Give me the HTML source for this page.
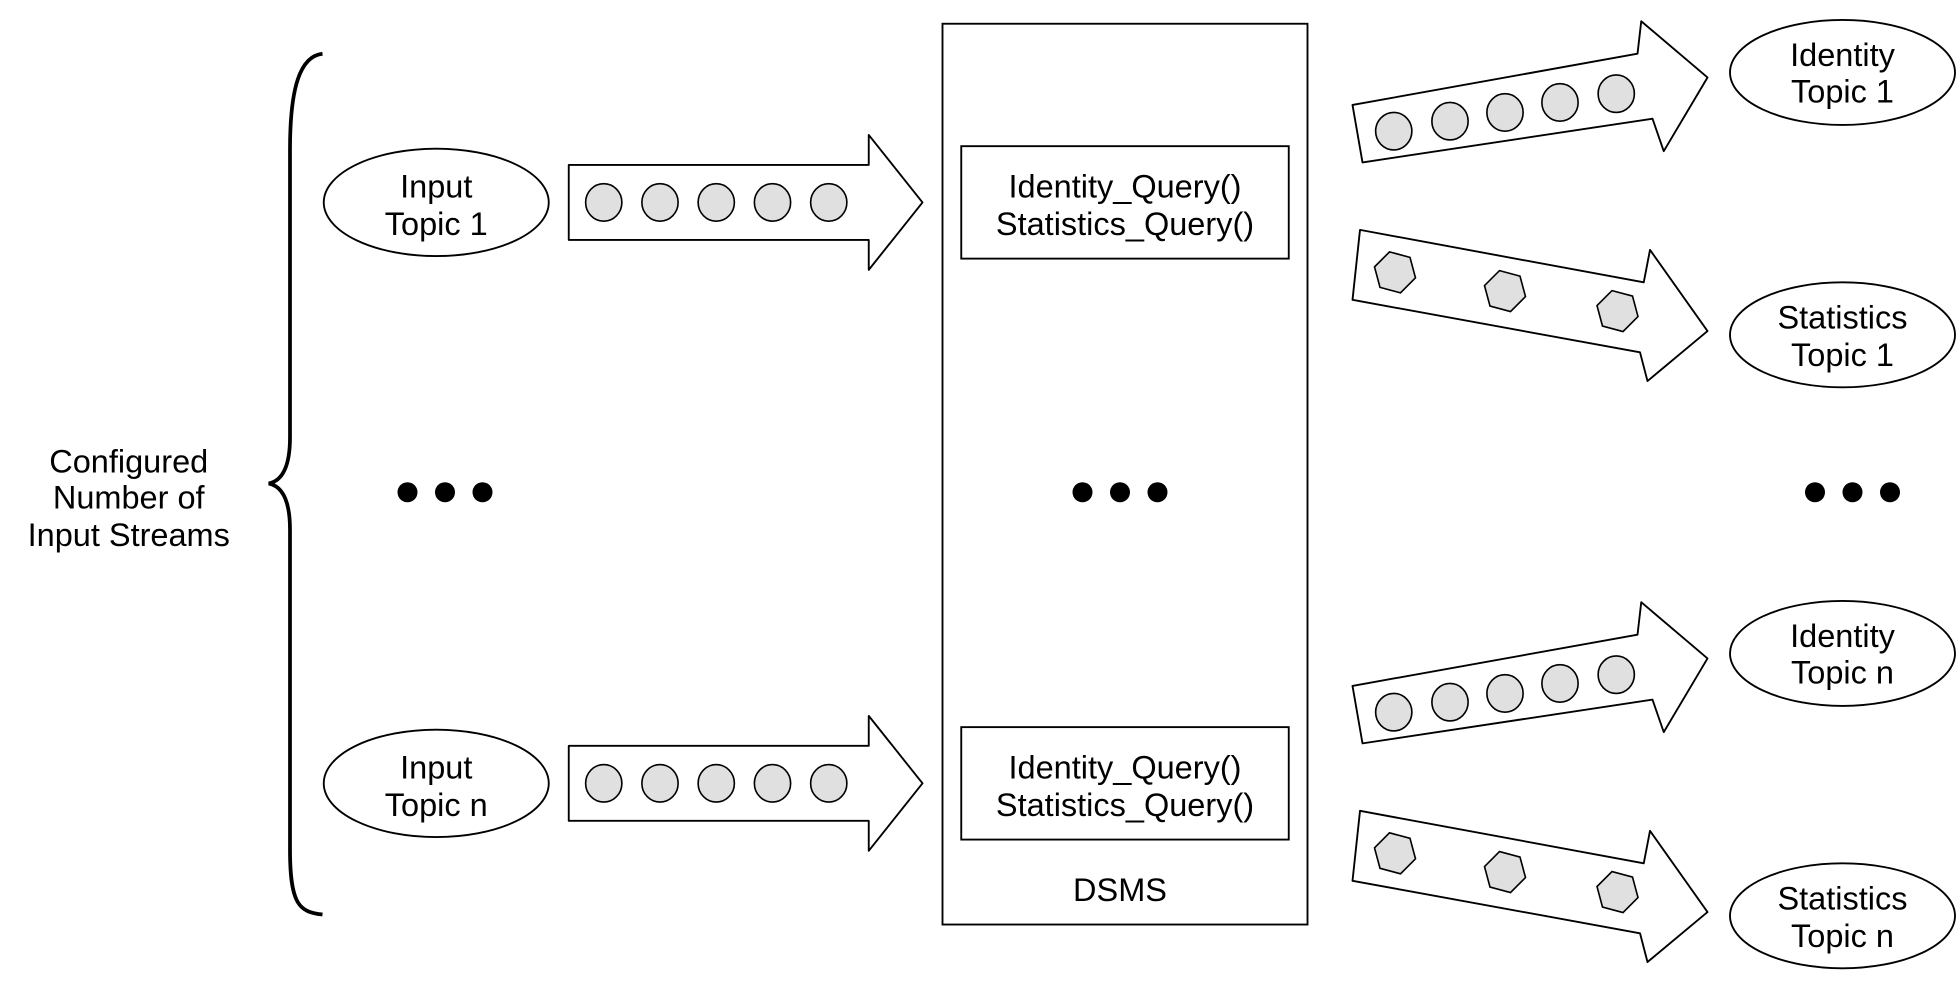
<!DOCTYPE html>
<html><head><meta charset="utf-8"><style>
html,body{margin:0;padding:0;background:#fff;}
svg{display:block;}
text{font-family:"Liberation Sans",Arial,sans-serif;font-size:26px;fill:#000;text-anchor:middle;}
</style></head><body>
<svg width="1960" height="987" viewBox="0 0 1568 790" preserveAspectRatio="none" xmlns="http://www.w3.org/2000/svg">
<defs>
<polygon id="hex" points="16.4,4.4 4.4,16.4 -12,12 -16.4,-4.4 -4.4,-16.4 12,-12" fill="#e0e0e0" stroke="#000" stroke-width="1.3"/>
<ellipse id="dot" rx="14.5" ry="15" fill="#e0e0e0" stroke="#000" stroke-width="1.3"/>
<g id="inarrow">
<path d="M455,132 L695,132 L695,108 L738,162 L695,216 L695,192 L455,192 Z" fill="#fff" stroke="#000" stroke-width="1.5" stroke-linejoin="round"/>
<use href="#dot" x="483" y="162"/><use href="#dot" x="528" y="162"/><use href="#dot" x="573" y="162"/><use href="#dot" x="618" y="162"/><use href="#dot" x="663" y="162"/>
</g>
<g id="idarrow">
<path d="M1082,84 L1310,43 L1313,17 L1366,62 L1331,121 L1322,95 L1090,130 Z" fill="#fff" stroke="#000" stroke-width="1.5" stroke-linejoin="round"/>
<use href="#dot" x="1115" y="105"/><use href="#dot" x="1160" y="97"/><use href="#dot" x="1204" y="90"/><use href="#dot" x="1248" y="82"/><use href="#dot" x="1293" y="75"/>
</g>
<g id="starrow">
<path d="M1088,184 L1315,226 L1320,200 L1366,265 L1318,305 L1312,282 L1082,240 Z" fill="#fff" stroke="#000" stroke-width="1.5" stroke-linejoin="round"/>
<use href="#hex" x="1116" y="218"/><use href="#hex" x="1204" y="233"/><use href="#hex" x="1294" y="249"/>
</g>
</defs>

<path d="M258,43 C240,45 232,70 232,120 L232,350 C232,375 225,385 215,387 C225,389 232,399 232,424 L232,680 C232,725 240,730 258,732" fill="none" stroke="#000" stroke-width="3"/>
<text x="103" y="378">Configured</text>
<text x="103" y="407">Number of</text>
<text x="103" y="437">Input Streams</text>

<ellipse cx="349" cy="162" rx="90" ry="43" fill="#fff" stroke="#000" stroke-width="1.5"/>
<text x="349" y="158">Input</text><text x="349" y="188">Topic 1</text>
<use href="#inarrow"/>
<ellipse cx="349" cy="627" rx="90" ry="43" fill="#fff" stroke="#000" stroke-width="1.5"/>
<text x="349" y="623">Input</text><text x="349" y="653">Topic n</text>
<use href="#inarrow" y="465"/>

<rect x="754" y="19" width="292" height="721" fill="none" stroke="#000" stroke-width="1.5"/>
<rect x="769" y="117" width="262" height="90" fill="#fff" stroke="#000" stroke-width="1.5"/>
<text x="900" y="158">Identity_Query()</text><text x="900" y="188">Statistics_Query()</text>
<rect x="769" y="582" width="262" height="90" fill="#fff" stroke="#000" stroke-width="1.5"/>
<text x="900" y="623">Identity_Query()</text><text x="900" y="653">Statistics_Query()</text>
<text x="896" y="721">DSMS</text>

<g fill="#000">
<circle cx="326" cy="394" r="8"/><circle cx="356" cy="394" r="8"/><circle cx="386" cy="394" r="8"/>
<circle cx="866" cy="394" r="8"/><circle cx="896" cy="394" r="8"/><circle cx="926" cy="394" r="8"/>
<circle cx="1452" cy="394" r="8"/><circle cx="1482" cy="394" r="8"/><circle cx="1512" cy="394" r="8"/>
</g>

<use href="#idarrow"/><use href="#starrow"/>
<use href="#idarrow" y="465"/><use href="#starrow" y="465"/>
<ellipse cx="1474" cy="58" rx="90" ry="42" fill="#fff" stroke="#000" stroke-width="1.5"/>
<text x="1474" y="53">Identity</text><text x="1474" y="82">Topic 1</text>
<ellipse cx="1474" cy="268" rx="90" ry="42" fill="#fff" stroke="#000" stroke-width="1.5"/>
<text x="1474" y="263">Statistics</text><text x="1474" y="293">Topic 1</text>
<ellipse cx="1474" cy="523" rx="90" ry="42" fill="#fff" stroke="#000" stroke-width="1.5"/>
<text x="1474" y="518">Identity</text><text x="1474" y="547">Topic n</text>
<ellipse cx="1474" cy="733" rx="90" ry="42" fill="#fff" stroke="#000" stroke-width="1.5"/>
<text x="1474" y="728">Statistics</text><text x="1474" y="758">Topic n</text>
</svg>
</body></html>
